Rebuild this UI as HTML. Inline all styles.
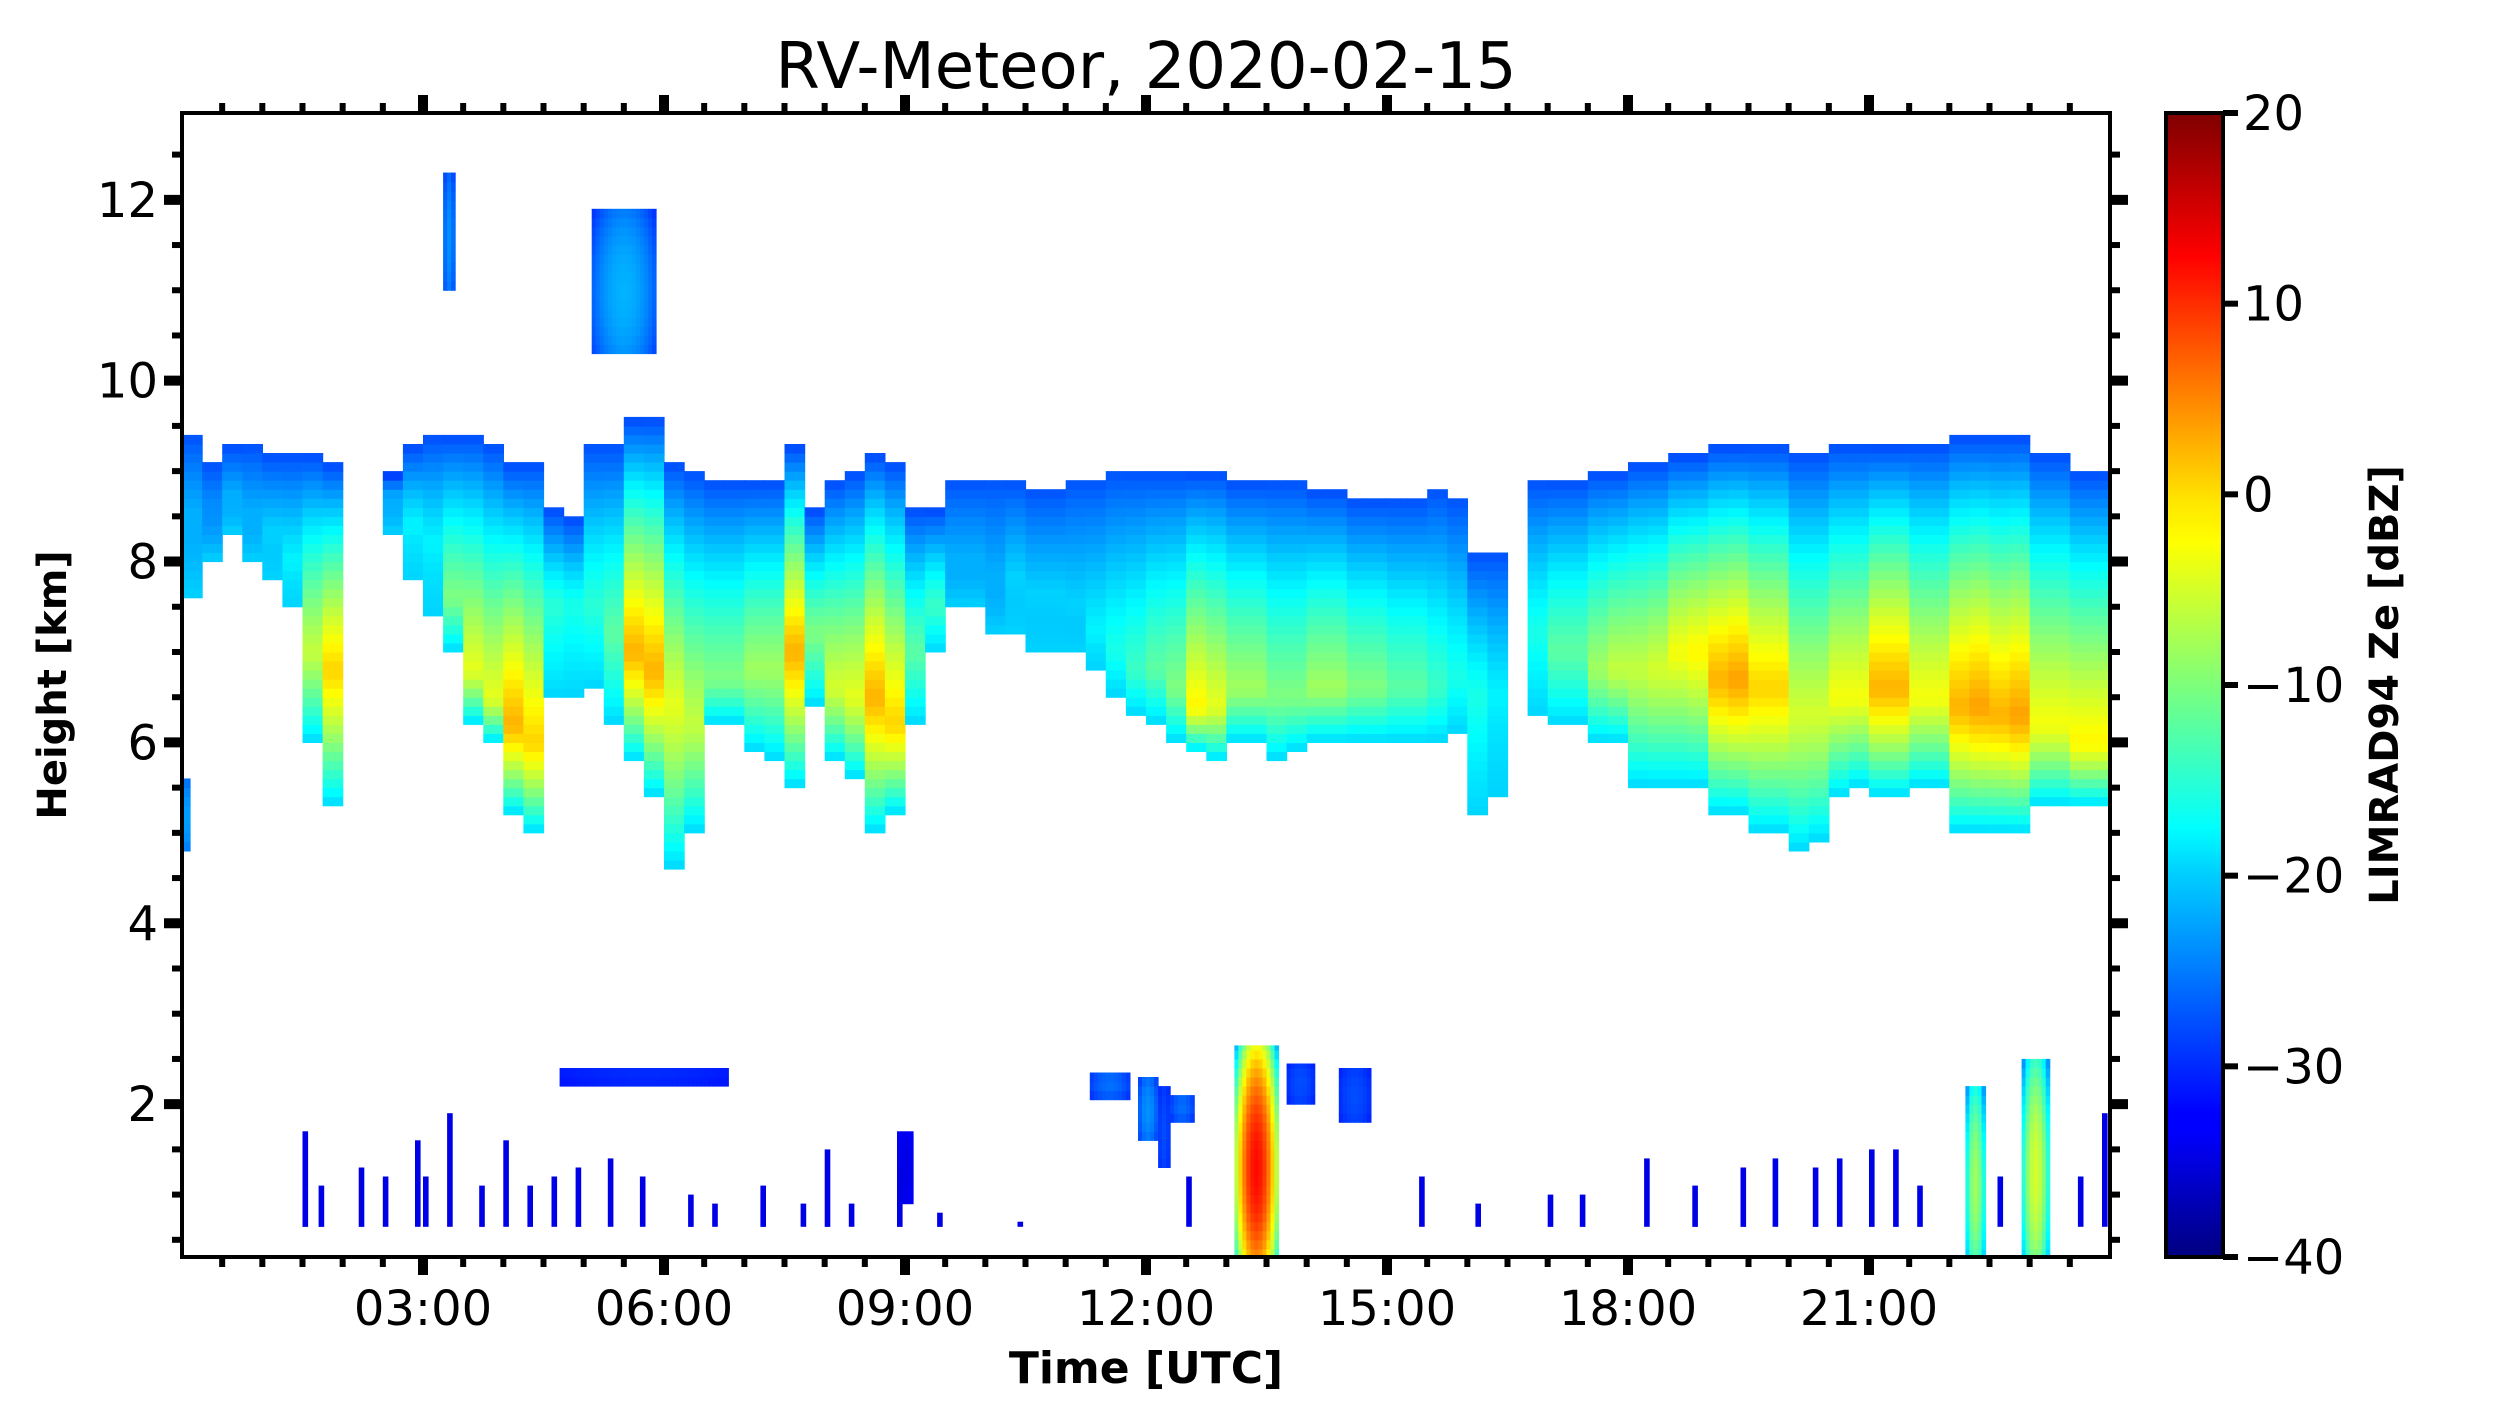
<!DOCTYPE html>
<html><head><meta charset="utf-8">
<style>
html,body{margin:0;padding:0;background:#fff;}
svg{display:block;font-family:"DejaVu Sans","Liberation Sans",sans-serif;}
</style></head>
<body>
<svg id="chart" width="2500" height="1425" viewBox="0 0 2500 1425" xmlns="http://www.w3.org/2000/svg">
<defs>
<linearGradient id="jet" x1="0" y1="1" x2="0" y2="0">
<stop offset="0" stop-color="#00007f"/><stop offset="0.11" stop-color="#0000ff"/>
<stop offset="0.125" stop-color="#0000ff"/><stop offset="0.34" stop-color="#00d4ff"/>
<stop offset="0.375" stop-color="#0ff"/><stop offset="0.5" stop-color="#7dff7a"/>
<stop offset="0.625" stop-color="#ff0"/><stop offset="0.66" stop-color="#ffe600"/>
<stop offset="0.875" stop-color="#ff0000"/><stop offset="1" stop-color="#7f0000"/>
</linearGradient>
<clipPath id="plotclip"><rect x="182" y="113" width="1928" height="1144"/></clipPath>
</defs>
<text x="1146" y="88" font-size="64" text-anchor="middle">RV-Meteor, 2020-02-15</text>
<g id="cells" clip-path="url(#plotclip)"></g>
<rect x="182" y="113" width="1928" height="1144" fill="none" stroke="#000" stroke-width="4"/>
<g id="axes"></g>
<text x="1146" y="1383" font-size="44" font-weight="bold" text-anchor="middle">Time [UTC]</text>
<text transform="translate(66,685) rotate(-90)" font-size="40" font-weight="bold" text-anchor="middle">Height [km]</text>
<rect x="2166" y="113" width="57" height="1144" fill="url(#jet)" stroke="#000" stroke-width="4"/>
<text transform="translate(2398,685) rotate(-90)" font-size="40" font-weight="bold" text-anchor="middle">LIMRAD94 Ze [dBZ]</text>
</svg>
<script>
// Upper cloud layer, 15-min columns (0..24h)
const colTop = [9.3,9.0,9.2,9.2,9.1,9.1,9.1,9.0,0,0,8.9,9.2,9.3,9.3,9.3,9.2,9.0,9.0,8.5,8.4,9.2,9.2,9.5,9.5,9.0,8.9,8.8,8.8,8.8,8.8,9.2,8.5,8.8,8.9,9.1,9.0,8.5,8.5,8.8,8.8,8.8,8.8,8.7,8.7,8.8,8.8,8.9,8.9,8.9,8.9,8.9,8.9,8.8,8.8,8.8,8.8,8.7,8.7,8.6,8.6,8.6,8.6,8.7,8.6,8.0,8.0,0,8.8,8.8,8.8,8.9,8.9,9.0,9.0,9.1,9.1,9.2,9.2,9.2,9.2,9.1,9.1,9.2,9.2,9.2,9.2,9.2,9.2,9.3,9.3,9.3,9.3,9.1,9.1,8.9,8.9];
const colBase = [7.6,8.0,8.3,8.0,7.8,7.5,6.0,5.3,0,0,8.3,7.8,7.4,7.0,6.2,6.0,5.2,5.0,6.5,6.5,6.6,6.2,5.8,5.4,4.6,5.0,6.2,6.2,5.9,5.8,5.5,6.4,5.8,5.6,5.0,5.2,6.2,7.0,7.5,7.5,7.2,7.2,7.0,7.0,7.0,6.8,6.5,6.3,6.2,6.0,5.9,5.8,6.0,6.0,5.8,5.9,6.0,6.0,6.0,6.0,6.0,6.0,6.0,6.1,5.2,5.4,0,6.3,6.2,6.2,6.0,6.0,5.5,5.5,5.5,5.5,5.2,5.2,5.0,5.0,4.8,4.9,5.4,5.5,5.4,5.4,5.5,5.5,5.0,5.0,5.0,5.0,5.3,5.3,5.3,5.3];
const colPeak = [-22,-24,-22,-22,-20,-18,-6,0,-40,-40,-22,-18,-18,-10,-4,-4,2,0,-15,-16,-15,-12,2,2,-4,-6,-10,-10,-8,-8,2,-10,-5,-4,2,0,-12,-14,-22,-22,-22,-20,-20,-20,-20,-18,-16,-14,-12,-10,-2,-4,-8,-8,-10,-10,-8,-8,-10,-10,-12,-12,-14,-16,-16,-18,-40,-16,-12,-12,-8,-6,-6,-5,-3,-2,2,3,0,0,-5,-5,-3,-3,2,2,-3,-3,2,3,2,3,-3,-3,-2,-2];
const colPeakH = [8.5,8.6,8.7,8.5,8.3,8.0,7.0,6.8,0,0,8.7,8.4,8.2,7.6,6.8,6.5,6.2,6.0,7.5,7.5,7.5,7.2,7.0,6.8,6.4,6.2,6.7,6.7,6.8,6.8,7.0,7.2,6.6,6.5,6.5,6.2,7.0,7.5,8.0,8.0,7.8,7.8,7.6,7.6,7.5,7.2,7.0,6.8,6.8,6.6,6.4,6.4,6.6,6.6,6.5,6.5,6.6,6.6,6.6,6.6,6.6,6.6,6.6,6.7,6.5,6.5,0,7.2,7.0,7.0,6.8,6.8,6.8,6.8,7.0,7.0,6.7,6.7,6.6,6.6,6.3,6.3,6.5,6.5,6.6,6.6,6.5,6.5,6.4,6.4,6.3,6.3,6.2,6.2,6.0,6.0];
// Isolated patches: start hour, end hour, base km, top km, peak dBZ
const patchT0 = [0.0,3.25,5.1,4.7,11.3,11.9,12.15,12.3,13.1,13.75,14.4,22.2,22.9,8.9];
const patchT1 = [0.1,3.4,5.9,6.8,11.8,12.15,12.3,12.6,13.65,14.1,14.8,22.45,23.25,9.1];
const patchBase = [4.8,11.0,10.3,2.2,2.05,1.6,1.3,1.8,0.3,2.0,1.8,0.3,0.3,0.9];
const patchTop = [5.6,12.3,11.9,2.4,2.35,2.3,2.2,2.1,2.65,2.45,2.4,2.2,2.5,1.7];
const patchPeak = [-22,-24,-22,-30,-26,-24,-28,-26,12,-28,-28,-8,-5,-34];
// Low drizzle specks: hour, top km
const speckT = [1.5,1.7,2.2,2.5,2.9,3.0,3.3,3.7,4.0,4.3,4.6,4.9,5.3,5.7,6.3,6.6,7.2,7.7,8.0,8.3,8.9,9.4,10.4,12.5,15.4,16.1,17.0,17.4,18.2,18.8,19.4,19.8,20.3,20.6,21.0,21.3,21.6,22.6,23.6,23.9];
const speckTop = [1.7,1.1,1.3,1.2,1.6,1.2,1.9,1.1,1.6,1.1,1.2,1.3,1.4,1.2,1.0,0.9,1.1,0.9,1.5,0.9,1.3,0.8,0.7,1.2,1.2,0.9,1.0,1.0,1.4,1.1,1.3,1.4,1.3,1.4,1.5,1.5,1.1,1.2,1.2,1.9];
const xTickLabels = ["03:00","06:00","09:00","12:00","15:00","18:00","21:00"];
const xTickHours = [3,6,9,12,15,18,21];
const yTickVals = [2,4,6,8,10,12];
const cbTickVals = [-40,-30,-20,-10,0,10,20];

const X0=182,X1=2110,Y0=1257,Y1=113,HMIN=0.31,HMAX=12.96;
const xs = h => X0 + (X1-X0)*h/24;
const ys = z => Y0 - (Y0-Y1)*(z-HMIN)/(HMAX-HMIN);
const cbY = v => 1257 - 1144*(v+40)/60;
function jet(v){
  let x=Math.max(0,Math.min(1,(v+40)/60));
  const c=t=>Math.round(255*Math.max(0,Math.min(1,t)));
  return `rgb(${c(1.5-Math.abs(4*x-3))},${c(1.5-Math.abs(4*x-2))},${c(1.5-Math.abs(4*x-1))})`;
}
const NS="http://www.w3.org/2000/svg";
const cells=document.getElementById('cells');
function cell(x,y,w,h,col){
  const r=document.createElementNS(NS,'rect');
  r.setAttribute('x',x.toFixed(1));r.setAttribute('y',y.toFixed(1));
  r.setAttribute('width',(w+0.6).toFixed(1));r.setAttribute('height',(h+0.6).toFixed(1));
  r.setAttribute('fill',col);
  
  
  cells.appendChild(r);
}
const DZ=0.1;
function profile(z,base,top,pk,pkH){
  if(z<pkH){const f=(pkH-z)/Math.max(0.1,pkH-base);return pk-(pk+14)*Math.pow(f,1.3)-6*f;}
  const f=(z-pkH)/Math.max(0.1,top-pkH);return pk-(pk+27)*Math.pow(f,1.2);
}
colTop.forEach((top,i)=>{
  if(!top) return;
  const base=colBase[i],pk=colPeak[i],pkH=colPeakH[i];
  const xa=xs(i*0.25), xb=xs((i+1)*0.25);
  for(let z=base;z<top;z+=DZ){
    const v=profile(z+DZ/2,base,top,pk,pkH);
    cell(xa,ys(z+DZ),xb-xa,ys(z)-ys(z+DZ),jet(v));
  }
});
patchT0.forEach((t0,i)=>{
  const t1=patchT1[i],b=patchBase[i],tp=patchTop[i],pk=patchPeak[i];
  const nT=Math.max(1,Math.round((t1-t0)/0.05));
  for(let k=0;k<nT;k++){
    const ta=t0+(t1-t0)*k/nT,tb=t0+(t1-t0)*(k+1)/nT;
    const fx=Math.abs((k+0.5)/nT-0.5)*2;
    for(let z=b;z<tp;z+=DZ){
      const fz=Math.abs((z-b)/(tp-b)-0.4)*1.6;
      const v=pk-(pk+32)*Math.min(1,0.5*fx*fx+0.4*fz*fz);
      cell(xs(ta),ys(Math.min(tp,z+DZ)),xs(tb)-xs(ta),ys(z)-ys(Math.min(tp,z+DZ)),jet(v));
    }
  }
});
speckT.forEach((t,i)=>{
  const top=speckTop[i];
  cell(xs(t),ys(top),5,ys(0.65)-ys(top),jet(-34));
});
const axes=document.getElementById('axes');
function line(x1,y1,x2,y2,w,name){
  const l=document.createElementNS(NS,'line');
  l.setAttribute('x1',x1);l.setAttribute('y1',y1);l.setAttribute('x2',x2);l.setAttribute('y2',y2);
  l.setAttribute('stroke','#000');l.setAttribute('stroke-width',w);
  
  
  axes.appendChild(l);
}
function text(x,y,s,anchor,name){
  const t=document.createElementNS(NS,'text');
  t.setAttribute('x',x);t.setAttribute('y',y);t.setAttribute('font-size','48');
  t.setAttribute('text-anchor',anchor);t.textContent=s;
  
  
  axes.appendChild(t);
}
for(let m=1;m<48;m++){
  const x=xs(m/2), major=(m%6===0);
  const L=major?18:10,W=major?10:6;
  line(x,Y0,x,Y0+L,W,'x-tick');
  line(x,Y1,x,Y1-L,W,'x-tick-top');
}
xTickHours.forEach((h,i)=>text(xs(h),1325,xTickLabels[i],'middle','x-tick-label'));
for(let z=0.5;z<13;z+=0.5){
  const y=ys(z), major=(Math.abs(z%2)<1e-6);
  const L=major?18:10,W=major?10:6;
  line(X0,y,X0-L,y,W,'y-tick');
  line(X1,y,X1+L,y,W,'y-tick-right');
}
yTickVals.forEach(v=>text(158,ys(v)+17,String(v),'end','y-tick-label'));
cbTickVals.forEach(v=>{
  const y=cbY(v);
  line(2223,y,2238,y,6,'colorbar-tick');
  text(2243,y+17,String(v).replace('-','\u2212'),'start','colorbar-tick-label');
});
</script>
</body></html>
